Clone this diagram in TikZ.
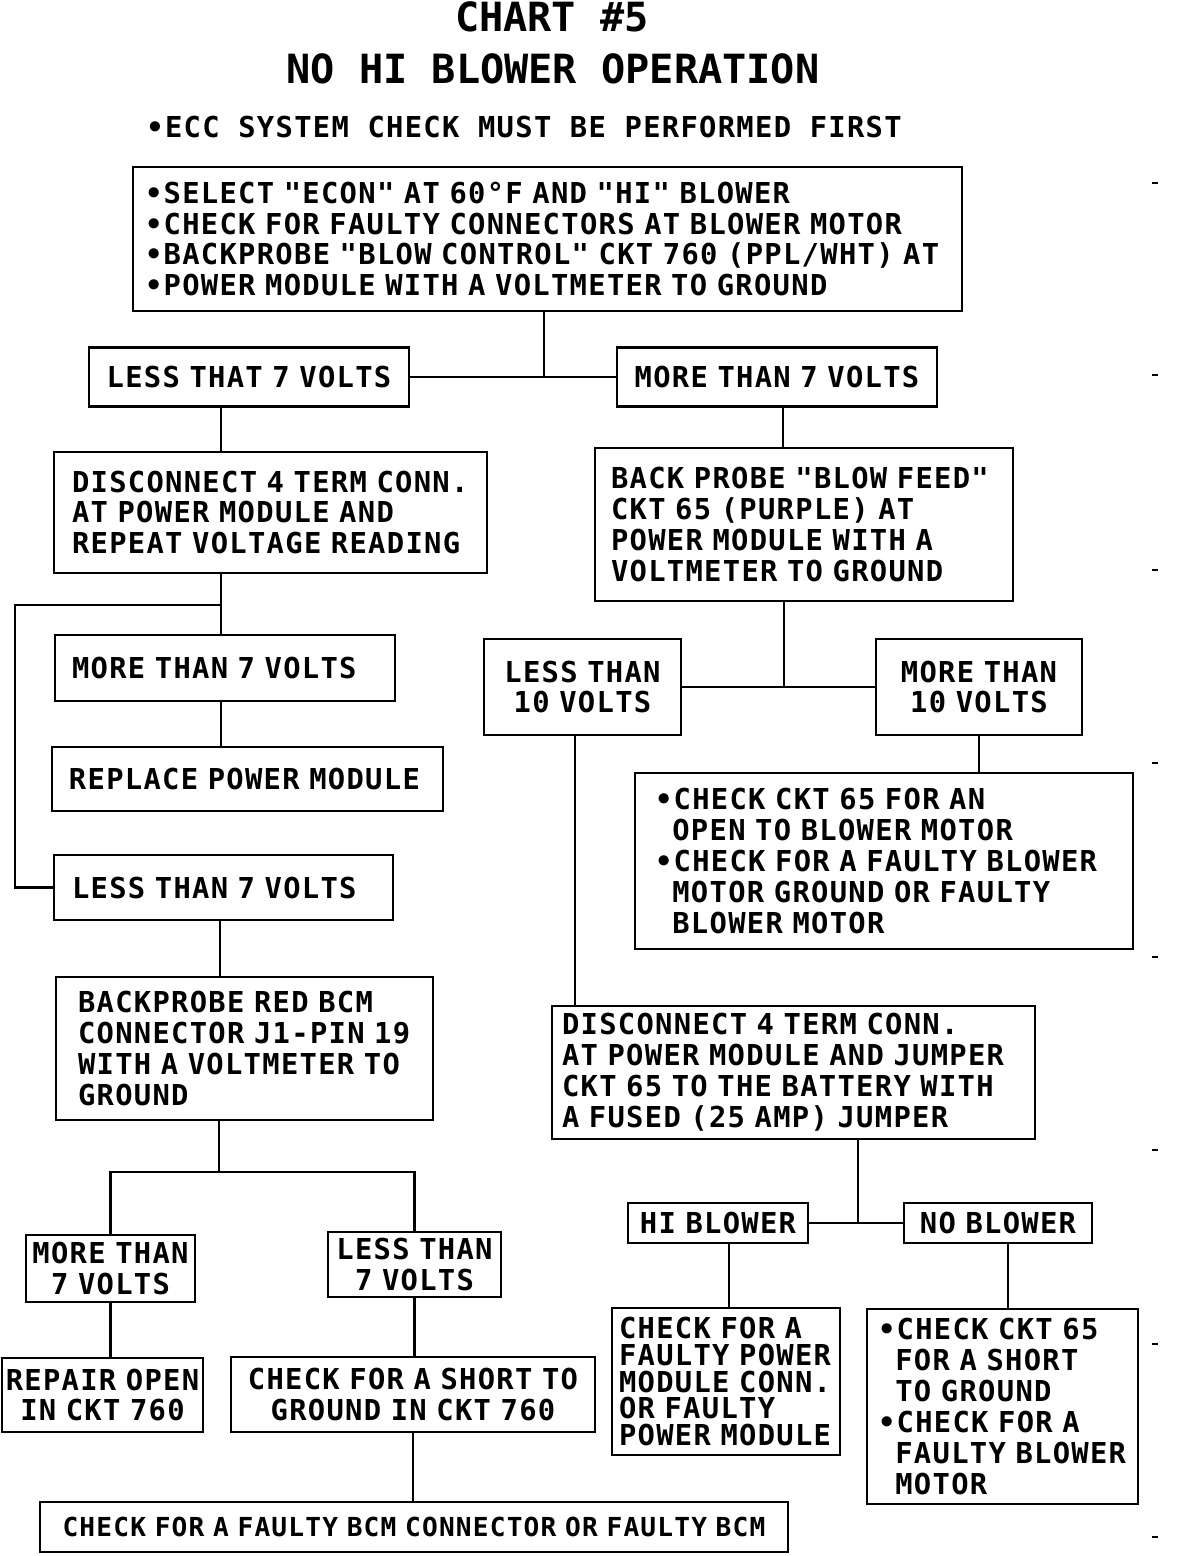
\documentclass[tikz,border=0pt]{standalone}
\usepackage{fontspec}
\setmonofont{DejaVu Sans Mono}
\newfontfamily\plotfont{DejaVu Sans Mono}[LetterSpace=4.5]
\usetikzlibrary{positioning}
\newcommand{\bodyfont}{\plotfont\bfseries\fontsize{16.4pt}{17.6pt}\selectfont}
\newcommand{\tightfont}{\plotfont\bfseries\fontsize{16.4pt}{15.3pt}\selectfont}
\newcommand{\smallbody}{\plotfont\bfseries\fontsize{14.9pt}{17pt}\selectfont}
\newcommand{\titlefont}{\ttfamily\bfseries\fontsize{22.9pt}{26pt}\selectfont}
\newcommand{\gap}{\phantom{•}}

\begin{document}
\begin{tikzpicture}[x=0.02cm, y=-0.02cm, line width=1.6pt,
  box/.style={draw, inner ysep=0pt, font=\bodyfont, align=left},
  mid/.style={box, align=center},
  size/.style n args={3}{minimum width=#1*0.02cm, minimum height=#2*0.02cm,
    inner xsep=#3*0.02cm, text width=(#1-2*#3)*0.02cm}]
  \useasboundingbox (0,0) rectangle (1184,1556);

  % ── Heading ─────────────────────────────────────────────────────────────
  \node[font=\titlefont, inner sep=0pt] (chart) at (552,17) {CHART \#5};
  \node[font=\titlefont, inner sep=0pt] (title) at (553,69) {NO HI BLOWER OPERATION};
  \node[font=\bodyfont, inner sep=0pt, anchor=west] (note) at (145,127)
    {•ECC SYSTEM CHECK MUST BE PERFORMED FIRST};

  % ── First test ──────────────────────────────────────────────────────────
  \node[box, size={829}{144}{12}] (top) at (547.5,239)
    {•SELECT "ECON" AT 60°F AND "HI" BLOWER\\
     •CHECK FOR FAULTY CONNECTORS AT BLOWER MOTOR\\
     •BACKPROBE "BLOW CONTROL" CKT 760 (PPL/WHT) AT\\
     •POWER MODULE WITH A VOLTMETER TO GROUND};
  \node[mid, size={320}{59}{6}] (l1) at (249,377) {LESS THAT 7 VOLTS};
  \node[mid, size={320}{59}{6}] (r1) at (777,377) {MORE THAN 7 VOLTS};

  % ── Left branch ─────────────────────────────────────────────────────────
  \node[box, size={433}{121}{18}] (l2) at (270.5,512.5)
    {DISCONNECT 4 TERM CONN.\\ AT POWER MODULE AND\\ REPEAT VOLTAGE READING};
  \node[box, size={340}{66}{17}] (l3) at (225,668) {MORE THAN 7 VOLTS};
  \node[box, size={391}{64}{17}] (l4) at (247.5,779) {REPLACE POWER MODULE};
  \node[box, size={339}{65}{18}] (l5) at (223.5,887.5) {LESS THAN 7 VOLTS};
  \node[box, size={377}{143}{22}] (l6) at (244.5,1048.5)
    {BACKPROBE RED BCM\\ CONNECTOR J1-PIN 19\\ WITH A VOLTMETER TO\\ GROUND};
  \node[mid, size={169}{67}{3}] (l7) at (110.5,1268.5) {MORE THAN\\ 7 VOLTS};
  \node[mid, size={173}{65}{3}] (l8) at (414.5,1264.5) {LESS THAN\\ 7 VOLTS};
  \node[mid, size={201}{74}{3}] (l9) at (102.5,1395) {REPAIR OPEN\\ IN CKT 760};
  \node[mid, size={364}{75}{3}] (l10) at (413,1394.5)
    {CHECK FOR A SHORT TO\\ GROUND IN CKT 760};
  \node[mid, font=\smallbody, size={748}{50}{3}] (l11) at (414,1527)
    {CHECK FOR A FAULTY BCM CONNECTOR OR FAULTY BCM};

  % ── Right branch ────────────────────────────────────────────────────────
  \node[box, size={418}{153}{16}] (r2) at (804,524.5)
    {BACK PROBE "BLOW FEED"\\ CKT 65 (PURPLE) AT\\ POWER MODULE WITH A\\ VOLTMETER TO GROUND};
  \node[mid, size={197}{96}{3}] (r3) at (582.5,687) {LESS THAN\\ 10 VOLTS};
  \node[mid, size={206}{96}{3}] (r4) at (979,687) {MORE THAN\\ 10 VOLTS};
  \node[box, size={498}{176}{20}] (r5) at (884,861)
    {•CHECK CKT 65 FOR AN\\ \gap OPEN TO BLOWER MOTOR\\
     •CHECK FOR A FAULTY BLOWER\\ \gap MOTOR GROUND OR FAULTY\\ \gap BLOWER MOTOR};
  \node[box, size={483}{133}{10}] (r6) at (793.5,1072.5)
    {DISCONNECT 4 TERM CONN.\\ AT POWER MODULE AND JUMPER\\
     CKT 65 TO THE BATTERY WITH\\ A FUSED (25 AMP) JUMPER};
  \node[mid, size={180}{40}{3}] (r7) at (718,1223) {HI BLOWER};
  \node[mid, size={188}{40}{3}] (r8) at (998,1223) {NO BLOWER};
  \node[box, font=\tightfont, size={228}{147}{7}] (r9) at (726,1381.5)
    {CHECK FOR A\\ FAULTY POWER\\ MODULE CONN.\\ OR FAULTY\\ POWER MODULE};
  \node[box, size={271}{195}{11}] (r10) at (1002.5,1406.5)
    {•CHECK CKT 65\\ \gap FOR A SHORT\\ \gap TO GROUND\\
     •CHECK FOR A\\ \gap FAULTY BLOWER\\ \gap MOTOR};

  % ── Connectors ──────────────────────────────────────────────────────────
  \coordinate (jT) at (544,377);
  \coordinate (cL) at (221,0);
  \coordinate (cLL) at (15,0);
  \coordinate (jL) at (221,605);
  \coordinate (cL6) at (220,0);
  \coordinate (jB) at (219,1172);
  \coordinate (cR) at (783,0);
  \coordinate (jR) at (784,687);
  \coordinate (cR3) at (575,0);
  \coordinate (jH) at (858,1223);
  \coordinate (cR7) at (729,0);
  \coordinate (cR8) at (1008,0);

  \draw (top.south -| jT) -- (jT);
  \draw (l1.east) -- (r1.west);
  \draw (l1.south -| cL) -- (l2.north -| cL);
  \draw (l2.south -| cL) -- (l3.north -| cL);
  \draw (jL) -- (jL -| cLL) |- (l5.west);
  \draw (l3.south -| cL) -- (l4.north -| cL);
  \draw (l5.south -| cL6) -- (l6.north -| cL6);
  \draw (l6.south -| jB) -- (jB);
  \draw (l7.north) |- (jB) -| (l8.north);
  \draw (l7.south) -- (l7.south |- l9.north);
  \draw (l8.south) -- (l8.south |- l10.north);
  \draw (l10.south) -- (l10.south |- l11.north);

  \draw (r1.south -| cR) -- (r2.north -| cR);
  \draw (r2.south -| jR) -- (jR);
  \draw (r3.east) -- (r4.west);
  \draw (r4.south) -- (r4.south |- r5.north);
  \draw (r3.south -| cR3) -- (r6.north -| cR3);
  \draw (r6.south -| jH) -- (jH);
  \draw (r7.east) -- (r8.west);
  \draw (r7.south -| cR7) -- (r9.north -| cR7);
  \draw (r8.south -| cR8) -- (r10.north -| cR8);

  % ── Edge marks ──────────────────────────────────────────────────────────
  \foreach \y in {183,375,570,763,957,1150,1344,1537}
    \draw[line width=0.6pt] (1152,\y) -- (1158,\y);
\end{tikzpicture}
\end{document}
